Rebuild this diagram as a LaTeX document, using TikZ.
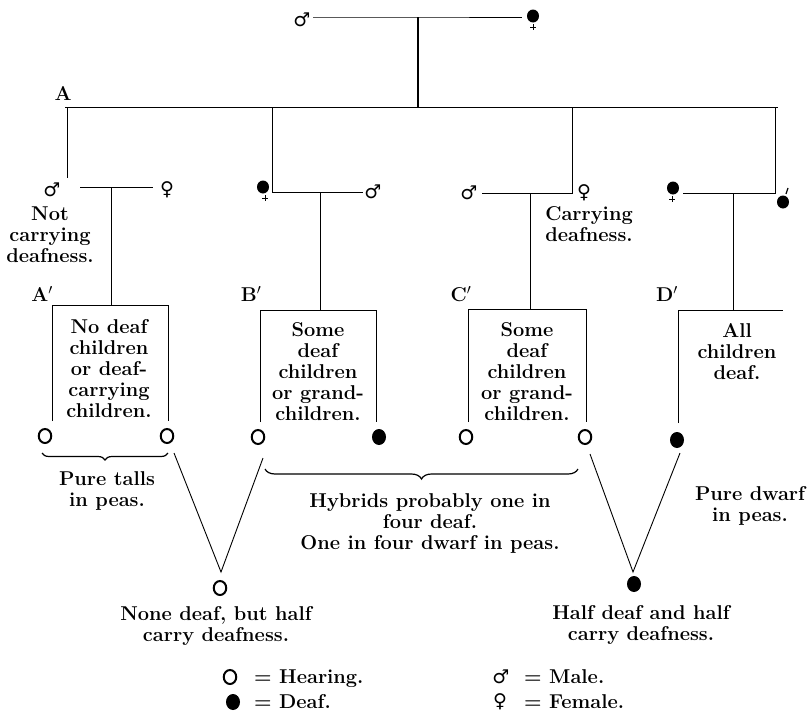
\documentclass[tikz,border=0pt]{standalone}
\usepackage{fontspec}
\newfontfamily\symfont{DejaVu Sans}
\usetikzlibrary{shapes.geometric,decorations.pathreplacing}
\begin{document}
\begin{tikzpicture}[x=1pt,y=-1pt,
  ln/.style={line width=0.9pt},
  txt/.style={font=\fontsize{20}{21}\selectfont\bfseries,align=center,inner sep=0pt},
  lbl/.style={font=\fontsize{20}{21}\selectfont\bfseries,inner sep=0pt,anchor=base west},
  hear/.style={ellipse,draw,line width=2pt,minimum width=12.5pt,minimum height=14pt,inner sep=0pt},
  deaf/.style={ellipse,fill,minimum width=14pt,minimum height=16pt,inner sep=0pt},
  sdeaf/.style={ellipse,fill,minimum width=12pt,minimum height=13pt,inner sep=0pt},
  sex/.style={font=\symfont\fontsize{19}{19}\selectfont,inner sep=0pt},
  brc/.style={decorate,decoration={brace,mirror,amplitude=#1},line width=1.2pt},
  fplus/.style={line width=0.9pt},
]
\useasboundingbox (0,0) rectangle (810,712);

% ---------- top pair ----------
\node[sex] (m0) at (302,20) {♂};
\node[sdeaf] (f0) at (533,16) {};
\draw[fplus] (533,24) -- (533,30) (530,27) -- (536,27);
\coordinate (t0) at (418,17);
\coordinate (tA) at (418,107);
\draw[ln] (313,17) coordinate (t1) -- (t0) -- (522,17) coordinate (t2);
\draw[line width=1.4pt] (t0) -- (tA);

% ---------- A line ----------
\node[lbl,anchor=center] (A) at (63,93) {A};
\coordinate (AL) at (65,107);
\coordinate (AR) at (778,107);
\draw[ln] (AL) -- (AR);

% ---------- pair A ----------
\node[sex] (ma) at (52,190) {♂};
\node[sex] (fa) at (167,190) {♀};
\coordinate (va) at (67,178);
\draw[ln] (AL -| va) -- (va);
\coordinate (la1) at (80,187);
\coordinate (la2) at (153,187);
\draw[ln] (la1) -- (la2);
\node[txt] (nc) at (50,235) {Not\\carrying\\deafness.};
\coordinate (ca) at (111,187);
\coordinate (cab) at (111,305);
\draw[ln] (ca) -- (cab);
\node[lbl,anchor=center] (Ap) at (42,294) {A$'$};
\draw[ln] (52,421) -- (52,305) -- (168,305) -- (168,421);
\node[txt] (ta) at (109,369) {No deaf\\children\\or deaf-\\carrying\\children.};
\node[hear] (a1) at (45,436) {};
\node[hear] (a2) at (167,436) {};

% ---------- pair B ----------
\node[sdeaf] (fb) at (263,187) {};
\draw[fplus] (265,195) -- (265,201) (262,198) -- (268,198);
\node[sex] (mb) at (373,192) {♂};
\coordinate (vb) at (272,192);
\draw[ln] (AL -| vb) -- (vb) -- (363,192) coordinate (lb2);
\coordinate (cb) at (320,192);
\coordinate (cbb) at (320,310);
\draw[ln] (cb) -- (cbb);
\node[lbl,anchor=center] (Bp) at (251,294) {B$'$};
\draw[ln] (260,422) -- (260,310) -- (376,310) -- (376,422);
\node[txt] (tb) at (318,372) {Some\\deaf\\children\\or grand-\\children.};
\node[hear] (b1) at (258,437) {};
\node[deaf] (b2) at (379,437) {};

% ---------- pair C ----------
\node[sex] (mc) at (469,193) {♂};
\node[sex] (fc) at (584,193) {♀};
\coordinate (vc) at (572,193);
\draw[ln] (482,193) coordinate (lc1) -- (vc) -- (AL -| vc);
\node[txt] (cd) at (589,224) {Carrying\\deafness.};
\coordinate (cc) at (530,193);
\coordinate (ccb) at (530,309);
\draw[ln] (cc) -- (ccb);
\node[lbl,anchor=center] (Cp) at (461,294) {C$'$};
\draw[ln] (468,422) -- (468,309) -- (586,309) -- (586,422);
\node[txt] (tc) at (527,372) {Some\\deaf\\children\\or grand-\\children.};
\node[hear] (c1) at (466,437) {};
\node[hear] (c2) at (585,437) {};

% ---------- pair D ----------
\node[sdeaf] (fd) at (673,188) {};
\draw[fplus] (672,196) -- (672,202) (669,199) -- (675,199);
\node[sdeaf] (md) at (783,202) {};
\draw[line width=1.2pt] (786,194) -- (788,188);
\coordinate (vd) at (775,193);
\draw[ln] (683,193) coordinate (ld1) -- (vd) -- (AL -| vd);
\coordinate (cdd) at (733,193);
\coordinate (cddb) at (733,310);
\draw[ln] (cdd) -- (cddb);
\node[lbl,anchor=center] (Dp) at (667,294) {D$'$};
\draw[ln] (678,423) -- (678,310) -- (783,310);
\node[txt] (td) at (737,352) {All\\children\\deaf.};
\node[deaf] (d1) at (677,440) {};

% ---------- braces ----------
\coordinate (br1a) at (42,453);
\coordinate (br1b) at (168,453);
\draw[brc=7pt] (br1a) -- (br1b);
\node[txt] (pt) at (107,491) {Pure talls\\in peas.};
\coordinate (br2a) at (265,469);
\coordinate (br2b) at (578,469);
\draw[brc=10pt] (br2a) -- (br2b);
\node[txt] (hy) at (430,523) {Hybrids probably one in\\four deaf.\\One in four dwarf in peas.};
\node[txt] (pd) at (750,506) {Pure dwarf\\in peas.};

% ---------- V lines ----------
\node[hear] (bl) at (220,588) {};
\coordinate (apL) at (221,572);
\coordinate (vl1) at (174,453);
\coordinate (vl2) at (263,458);
\draw[ln] (vl1) -- (apL) -- (vl2);
\node[txt] (nd) at (216,626) {None deaf, but half\\carry deafness.};

\node[deaf] (br) at (634,584) {};
\coordinate (apR) at (633,572);
\coordinate (vr1) at (590,454);
\coordinate (vr2) at (680,453);
\draw[ln] (vr1) -- (apR) -- (vr2);
\node[txt] (hd) at (641,625) {Half deaf and half\\carry deafness.};

% ---------- legend ----------
\node[hear] (lg1) at (230,677) {};
\node[lbl] (lg1t) at (254,683) {= Hearing.};
\node[deaf] (lg2) at (233,702) {};
\node[lbl] (lg2t) at (254,708) {= Deaf.};
\node[sex] (lg3) at (501,677) {♂};
\node[lbl] (lg3t) at (524,683) {= Male.};
\node[sex] (lg4) at (500,702) {♀};
\node[lbl] (lg4t) at (524,708) {= Female.};
\end{tikzpicture}
\end{document}
